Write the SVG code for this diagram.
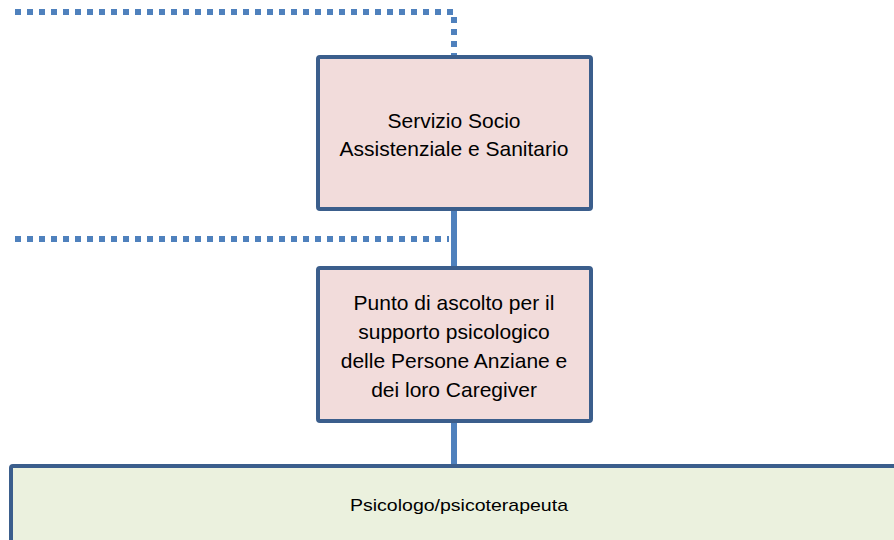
<svg xmlns="http://www.w3.org/2000/svg" width="894" height="540" viewBox="0 0 894 540">
<style>
.box{fill:#F2DCDB;stroke:#3B5E8C;stroke-width:4}
.bot{fill:#EBF1DE;stroke:#3B5E8C;stroke-width:4}
.dot{fill:none;stroke:#4F81BD;stroke-width:6;stroke-dasharray:6 6}
.sol{fill:none;stroke:#4F81BD;stroke-width:6}
.t{font-family:"Liberation Sans",Arial,sans-serif;font-size:21px;fill:#000;text-anchor:middle}
.s{font-family:"Liberation Sans",Arial,sans-serif;font-size:17px;fill:#000;text-anchor:middle}
</style>
<g id="connectors">
<path class="dot" d="M15 12 H454 V58"/>
<path class="dot" d="M15 239 H449"/>
<path class="sol" d="M454 210 V268"/>
<path class="sol" d="M454 422 V466"/>
</g>
<g id="node1">
<rect class="box" x="318" y="57" width="273" height="152" rx="2"/>
<text class="t" x="454" y="128">Servizio Socio</text>
<text class="t" x="454" y="156">Assistenziale e Sanitario</text>
</g>
<g id="node2">
<rect class="box" x="318" y="268" width="273" height="153" rx="2"/>
<text class="t" x="454" y="310">Punto di ascolto per il</text>
<text class="t" x="454" y="339">supporto psicologico</text>
<text class="t" x="454" y="368">delle Persone Anziane e</text>
<text class="t" x="454" y="397">dei loro Caregiver</text>
</g>
<g id="node3">
<rect class="bot" x="11" y="466" width="900" height="80" rx="2"/>
<text class="s" x="459" y="511" textLength="218" lengthAdjust="spacingAndGlyphs">Psicologo/psicoterapeuta</text>
</g>
</svg>
